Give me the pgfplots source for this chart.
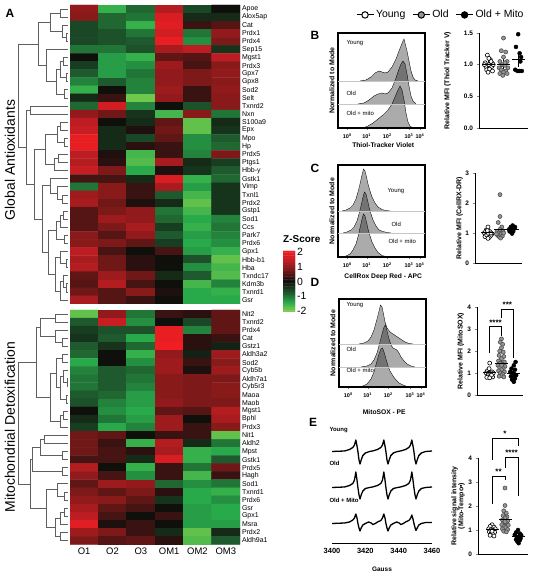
\documentclass[border=0pt]{standalone}
\usepackage{pgfplots}
\pgfplotsset{compat=1.18}
\usepackage{fontspec}
\setmainfont{Liberation Sans}
\setsansfont{Liberation Sans}
\definecolor{oldgray}{RGB}{150,150,150}
\definecolor{dendro}{RGB}{95,95,95}
\newcommand{\fs}[1]{\fontsize{#1}{#1}\selectfont}
\tikzset{
  tl/.style={anchor=west, font=\fs{6}},
  st/.style={font=\bfseries\fs{8}, above, inner sep=1bp},
}
\pgfplotsset{
  /pgf/number format/assume math mode=true,
  colormap={zs}{rgb255(0cm)=(125,205,75) rgb255(0.6cm)=(40,170,75) rgb255(1.2cm)=(30,90,45) rgb255(2cm)=(15,15,12) rgb255(2.8cm)=(125,25,25) rgb255(3.5cm)=(200,30,35) rgb255(4cm)=(240,30,35)},
  hm/.style={scale only axis, width=170bp, xmin=-0.5, xmax=5.5, ymin=-0.5, y dir=reverse,
    axis line style={draw=none}, major tick length=0pt, xtick=\empty, yticklabel pos=right,
    yticklabel style={font=\fs{7}, xshift=-1.5bp}, colormap name=zs, point meta min=-2, point meta max=2},
  den/.style={scale only axis, width=70bp, xmin=0, xmax=70, ymin=-0.5, y dir=reverse, hide axis, clip=false},
  dl/.style={dendro, line width=0.7bp, unbounded coords=jump},
  hist/.style={scale only axis, width=87bp, xmin=0, xmax=87, ymin=0, axis line style={line width=1.1bp},
    xtick={9.3,28.7,49.3,71,82},
    xticklabels={10\textsuperscript{0},10\textsuperscript{1},10\textsuperscript{2},10\textsuperscript{3},10\textsuperscript{4}},
    minor xtick={15.1,18.6,21.0,22.9,24.4,25.7,26.8,27.8,34.9,38.5,41.1,43.1,44.7,46.1,47.3,48.4,55.8,59.7,62.4,64.5,66.2,67.6,68.9,70.0,74.3,76.2,77.6,78.7,79.6,80.3,80.9,81.5},
    ytick=\empty, tick align=outside, major tick length=2.5bp, minor tick length=1.5bp, xtick pos=bottom,
    xticklabel style={font=\bfseries\fs{5.5}}, xlabel style={font=\bfseries\fs{6.7}, anchor=center},
    ylabel={Normalized to Mode}, ylabel style={font=\bfseries\fs{7}, at={(axis description cs:-0.07,0.5)}, anchor=center}},
  hc/.style={fill=black, fill opacity=0.33, draw=black, line width=0.35bp},
  sep/.style={gray!45, line width=0.5bp},
  scat/.style={scale only axis, axis lines*=left, axis line style={line width=0.9bp}, xtick=\empty,
    tick align=outside, major tick length=2.5bp, ytick style={line width=0.8bp},
    yticklabel style={font=\bfseries\fs{6.5}}, ylabel style={font=\bfseries\fs{7}, anchor=center, align=center}, clip=false},
  young/.style={only marks, mark=*, mark size=2bp, mark options={fill=white, draw=black, line width=0.6bp}},
  old/.style={only marks, mark=*, mark size=2bp, mark options={fill=oldgray, draw=black!70, line width=0.6bp}},
  mito/.style={only marks, mark=*, mark size=2bp, mark options={fill=black, draw=black}},
  meanbar/.style={only marks, mark=-, mark size=6.5bp, mark options={line width=1bp, draw=black},
    error bars/.cd, y dir=both, y explicit, error bar style={line width=0.9bp, black}, error mark options={mark size=3bp, line width=0.9bp, black}},
  br/.style={black, line width=0.7bp},
}
\begin{document}
\begin{tikzpicture}
\useasboundingbox (0,0) rectangle (546bp,573bp);

% ---------------- Heatmap top ----------------
\begin{axis}[hm, at={(70bp,568bp)}, anchor=north west, height=299bp, ymax=36.5,
  ytick={0,...,36},
  yticklabels={Apoe,Alox5ap,Cat,Prdx1,Prdx4,Sep15,Mgst1,Prdx3,Gpx7,Gpx8,Sod2,Selt,Txnrd2,Nxn,S100a9,Epx,Mpo,Hp,Prdx5,Ptgs1,Hbb-y,Gstk1,Vimp,Txnl1,Prdx2,Gstp1,Sod1,Ccs,Park7,Prdx6,Gpx1,Hbb-b1,Hba,Txndc17,Kdm3b,Txnrd1,Gsr}]
\addplot[matrix plot*, mesh/cols=6, point meta=explicit] coordinates {
(0,0)[1.0] (1,0)[-1.5] (2,0)[-0.9] (3,0)[1.3] (4,0)[-0.6] (5,0)[0.0]
(0,1)[0.9] (1,1)[-0.9] (2,1)[-1.0] (3,1)[1.7] (4,1)[-0.3] (5,1)[-0.3]
(0,2)[-0.6] (1,2)[-0.9] (2,2)[-1.5] (3,2)[1.8] (4,2)[0.3] (5,2)[0.5]
(0,3)[-0.6] (1,3)[-0.7] (2,3)[-1.0] (3,3)[1.6] (4,3)[-1.0] (5,3)[1.0]
(0,4)[-0.6] (1,4)[-0.7] (2,4)[-0.8] (3,4)[1.9] (4,4)[-1.2] (5,4)[0.8]
(0,5)[-1.0] (1,5)[-1.0] (2,5)[-0.7] (3,5)[1.2] (4,5)[1.4] (5,5)[-0.4]
(0,6)[0.0] (1,6)[-1.3] (2,6)[-1.5] (3,6)[0.6] (4,6)[0.5] (5,6)[1.4]
(0,7)[-0.5] (1,7)[-1.3] (2,7)[-1.2] (3,7)[1.1] (4,7)[0.4] (5,7)[0.9]
(0,8)[-0.8] (1,8)[-1.3] (2,8)[-1.0] (3,8)[1.0] (4,8)[0.8] (5,8)[1.0]
(0,9)[-1.1] (1,9)[-0.8] (2,9)[-1.1] (3,9)[1.0] (4,9)[0.8] (5,9)[0.9]
(0,10)[-1.5] (1,10)[0.0] (2,10)[-1.1] (3,10)[1.1] (4,10)[0.3] (5,10)[1.0]
(0,11)[-0.3] (1,11)[0.3] (2,11)[-1.9] (3,11)[1.0] (4,11)[0.3] (5,11)[0.9]
(0,12)[-0.9] (1,12)[1.6] (2,12)[-1.1] (3,12)[0.0] (4,12)[-0.7] (5,12)[0.9]
(0,13)[1.0] (1,13)[0.7] (2,13)[-0.4] (3,13)[-1.6] (4,13)[0.9] (5,13)[-1.0]
(0,14)[1.4] (1,14)[0.0] (2,14)[-0.3] (3,14)[0.6] (4,14)[-1.8] (5,14)[-0.3]
(0,15)[1.5] (1,15)[-0.3] (2,15)[0.1] (3,15)[0.7] (4,15)[-1.8] (5,15)[-0.4]
(0,16)[1.9] (1,16)[-0.3] (2,16)[-0.6] (3,16)[0.6] (4,16)[-1.2] (5,16)[-0.8]
(0,17)[1.9] (1,17)[-0.3] (2,17)[0.2] (3,17)[0.3] (4,17)[-1.2] (5,17)[-0.9]
(0,18)[1.4] (1,18)[0.1] (2,18)[-1.6] (3,18)[0.3] (4,18)[-1.1] (5,18)[0.8]
(0,19)[1.3] (1,19)[0.2] (2,19)[-1.7] (3,19)[1.2] (4,19)[-0.3] (5,19)[-0.5]
(0,20)[1.5] (1,20)[0.8] (2,20)[-1.4] (3,20)[0.1] (4,20)[-0.4] (5,20)[-0.8]
(0,21)[0.4] (1,21)[0.4] (2,21)[-0.3] (3,21)[1.7] (4,21)[-1.5] (5,21)[-0.9]
(0,22)[-1.0] (1,22)[0.9] (2,22)[0.3] (3,22)[1.2] (4,22)[-1.3] (5,22)[-0.4]
(0,23)[1.1] (1,23)[0.9] (2,23)[0.3] (3,23)[-0.8] (4,23)[-1.6] (5,23)[-0.4]
(0,24)[1.2] (1,24)[0.7] (2,24)[0.1] (3,24)[-0.3] (4,24)[-1.8] (5,24)[-0.4]
(0,25)[0.5] (1,25)[0.8] (2,25)[1.0] (3,25)[-1.0] (4,25)[-1.6] (5,25)[-0.4]
(0,26)[0.5] (1,26)[1.1] (2,26)[1.0] (3,26)[-0.9] (4,26)[-1.4] (5,26)[-1.1]
(0,27)[0.5] (1,27)[0.8] (2,27)[1.2] (3,27)[-0.5] (4,27)[-1.5] (5,27)[-1.0]
(0,28)[0.9] (1,28)[0.5] (2,28)[1.0] (3,28)[-0.8] (4,28)[-1.3] (5,28)[-1.1]
(0,29)[0.9] (1,29)[0.8] (2,29)[0.6] (3,29)[-0.5] (4,29)[-1.4] (5,29)[-1.2]
(0,30)[1.4] (1,30)[0.4] (2,30)[0.0] (3,30)[0.4] (4,30)[-1.3] (5,30)[-1.5]
(0,31)[1.2] (1,31)[0.7] (2,31)[0.2] (3,31)[0.0] (4,31)[-0.7] (5,31)[-1.8]
(0,32)[1.3] (1,32)[0.7] (2,32)[0.2] (3,32)[0.0] (4,32)[-1.2] (5,32)[-1.6]
(0,33)[0.6] (1,33)[1.1] (2,33)[0.7] (3,33)[-0.3] (4,33)[-0.8] (5,33)[-1.7]
(0,34)[0.5] (1,34)[1.3] (2,34)[0.4] (3,34)[0.0] (4,34)[-1.6] (5,34)[-1.1]
(0,35)[0.7] (1,35)[0.5] (2,35)[0.9] (3,35)[0.1] (4,35)[-1.4] (5,35)[-1.5]
(0,36)[1.2] (1,36)[0.5] (2,36)[0.3] (3,36)[0.0] (4,36)[-1.4] (5,36)[-1.4]
};
\end{axis}

% ---------------- Heatmap bottom ----------------
\begin{axis}[hm, at={(70bp,263bp)}, anchor=north west, height=234.4bp, ymax=28.5,
  ytick={0,...,28},
  yticklabels={Nit2,Txnrd2,Prdx4,Cat,Gstz1,Aldh3a2,Sod2,Cyb5b,Aldh7a1,Cyb5r3,Maoa,Maob,Mgst1,Bphl,Prdx3,Nit1,Aldh2,Mpst,Gstk1,Prdx5,Hagh,Sod1,Txnrd1,Prdx6,Gsr,Gpx1,Msra,Prdx2,Aldh9a1},
  xtick={0,...,5}, xticklabels={O1,O2,O3,OM1,OM2,OM3}, xticklabel style={font=\fs{9.5}}]
\addplot[matrix plot*, mesh/cols=6, point meta=explicit] coordinates {
(0,0)[-1.8] (1,0)[1.0] (2,0)[-1.0] (3,0)[0.3] (4,0)[0.2] (5,0)[0.6]
(0,1)[-0.8] (1,1)[1.5] (2,1)[-1.2] (3,1)[0.0] (4,1)[-0.6] (5,1)[0.6]
(0,2)[-0.5] (1,2)[-0.7] (2,2)[-0.7] (3,2)[1.9] (4,2)[-1.1] (5,2)[0.6]
(0,3)[-0.4] (1,3)[-0.8] (2,3)[-1.4] (3,3)[1.9] (4,3)[0.2] (5,3)[0.3]
(0,4)[-0.8] (1,4)[-0.4] (2,4)[-0.9] (3,4)[2.0] (4,4)[0.2] (5,4)[-0.2]
(0,5)[-0.9] (1,5)[0.0] (2,5)[-1.5] (3,5)[1.0] (4,5)[-0.2] (5,5)[1.1]
(0,6)[-1.4] (1,6)[0.0] (2,6)[-1.2] (3,6)[1.1] (4,6)[0.3] (5,6)[0.9]
(0,7)[-1.1] (1,7)[-0.8] (2,7)[-0.9] (3,7)[1.1] (4,7)[0.1] (5,7)[1.1]
(0,8)[-1.0] (1,8)[-0.8] (2,8)[-1.0] (3,8)[0.9] (4,8)[0.8] (5,8)[0.8]
(0,9)[-1.0] (1,9)[-0.8] (2,9)[-1.1] (3,9)[0.9] (4,9)[0.8] (5,9)[0.9]
(0,10)[-0.8] (1,10)[-0.9] (2,10)[-1.3] (3,10)[0.9] (4,10)[0.8] (5,10)[0.9]
(0,11)[-0.7] (1,11)[-1.1] (2,11)[-1.3] (3,11)[1.0] (4,11)[0.8] (5,11)[0.8]
(0,12)[0.0] (1,12)[-1.2] (2,12)[-1.4] (3,12)[0.6] (4,12)[0.5] (5,12)[1.3]
(0,13)[-0.3] (1,13)[-1.0] (2,13)[-1.3] (3,13)[1.1] (4,13)[0.0] (5,13)[1.2]
(0,14)[-0.5] (1,14)[-1.4] (2,14)[-1.1] (3,14)[1.1] (4,14)[0.3] (5,14)[0.9]
(0,15)[0.7] (1,15)[0.6] (2,15)[0.0] (3,15)[0.3] (4,15)[0.3] (5,15)[-1.8]
(0,16)[0.7] (1,16)[0.3] (2,16)[-1.5] (3,16)[1.3] (4,16)[-0.3] (5,16)[-1.0]
(0,17)[0.7] (1,17)[0.4] (2,17)[0.2] (3,17)[1.2] (4,17)[-1.5] (5,17)[-1.4]
(0,18)[0.4] (1,18)[0.4] (2,18)[-0.3] (3,18)[1.7] (4,18)[-1.5] (5,18)[-0.8]
(0,19)[1.3] (1,19)[0.0] (2,19)[-1.5] (3,19)[0.3] (4,19)[-1.0] (5,19)[0.7]
(0,20)[1.0] (1,20)[0.4] (2,20)[-1.2] (3,20)[0.3] (4,20)[-1.6] (5,20)[0.3]
(0,21)[0.6] (1,21)[1.1] (2,21)[1.0] (3,21)[-0.9] (4,21)[-1.2] (5,21)[-1.0]
(0,22)[0.8] (1,22)[0.6] (2,22)[0.8] (3,22)[0.2] (4,22)[-1.4] (5,22)[-1.5]
(0,23)[1.0] (1,23)[0.9] (2,23)[0.6] (3,23)[-0.4] (4,23)[-1.4] (5,23)[-1.2]
(0,24)[1.2] (1,24)[0.6] (2,24)[0.4] (3,24)[0.0] (4,24)[-1.3] (5,24)[-1.4]
(0,25)[1.4] (1,25)[0.4] (2,25)[0.0] (3,25)[0.3] (4,25)[-1.3] (5,25)[-1.4]
(0,26)[1.8] (1,26)[0.1] (2,26)[0.3] (3,26)[0.0] (4,26)[-1.3] (5,26)[-1.3]
(0,27)[1.1] (1,27)[0.8] (2,27)[0.3] (3,27)[-0.3] (4,27)[-1.8] (5,27)[-0.3]
(0,28)[0.8] (1,28)[0.5] (2,28)[0.6] (3,28)[0.2] (4,28)[-1.7] (5,28)[-0.8]
};
\end{axis}

% ---------------- Dendrograms ----------------
\begin{axis}[den, at={(0bp,568bp)}, anchor=north west, height=299bp, ymax=36.5]
\addplot[dl] coordinates {
(68,0)(60,0)(60,1)(68,1)(nan,nan)
(68,3)(66,3)(66,4)(68,4)(nan,nan)
(68,2)(62,2)(62,3.5)(66,3.5)(nan,nan)
(60,0.5)(50,0.5)(50,2.75)(62,2.75)(nan,nan)
(68,6)(63,6)(63,7)(68,7)(nan,nan)
(68,8)(66,8)(66,9)(68,9)(nan,nan)
(63,6.5)(60,6.5)(60,8.5)(66,8.5)(nan,nan)
(68,10)(64,10)(64,11)(68,11)(nan,nan)
(60,7.5)(56,7.5)(56,10.5)(64,10.5)(nan,nan)
(68,5)(46,5)(46,9)(56,9)(nan,nan)
(50,1.625)(38,1.625)(38,7)(46,7)(nan,nan)
(68,12)(30,12)(30,13)(68,13)(nan,nan)
(68,14)(60,14)(60,15)(68,15)(nan,nan)
(68,16)(64,16)(64,17)(68,17)(nan,nan)
(60,14.5)(57,14.5)(57,16.5)(64,16.5)(nan,nan)
(68,18)(58,18)(58,19)(68,19)(nan,nan)
(58,18.5)(54,18.5)(54,20)(68,20)(nan,nan)
(57,15.5)(45,15.5)(45,19.25)(54,19.25)(nan,nan)
(68,23)(62,23)(62,24)(68,24)(nan,nan)
(68,22)(57,22)(57,23.5)(62,23.5)(nan,nan)
(68,21)(50,21)(50,22.75)(57,22.75)(nan,nan)
(68,25)(63,25)(63,26)(68,26)(nan,nan)
(63,25.5)(60,25.5)(60,27)(68,27)(nan,nan)
(68,28)(64,28)(64,29)(68,29)(nan,nan)
(60,26.25)(56,26.25)(56,28.5)(64,28.5)(nan,nan)
(68,31)(66,31)(66,32)(68,32)(nan,nan)
(68,30)(60,30)(60,31.5)(66,31.5)(nan,nan)
(68,34)(66,34)(66,35)(68,35)(nan,nan)
(68,33)(63,33)(63,34.5)(66,34.5)(nan,nan)
(63,33.75)(60,33.75)(60,36)(68,36)(nan,nan)
(60,30.75)(55,30.75)(55,34.875)(60,34.875)(nan,nan)
(56,27.375)(48,27.375)(48,32.8125)(55,32.8125)(nan,nan)
(50,21.875)(42,21.875)(42,30.09)(48,30.09)(nan,nan)
(45,17.375)(34,17.375)(34,25.98)(42,25.98)(nan,nan)
(30,12.5)(26,12.5)(26,21.68)(34,21.68)(nan,nan)
(38,4.3125)(18,4.3125)(18,17.09)(26,17.09)
};
\end{axis}
\begin{axis}[den, at={(0bp,263bp)}, anchor=north west, height=234.4bp, ymax=28.5]
\addplot[dl] coordinates {
(68,0)(55,0)(55,1)(68,1)(nan,nan)
(68,3)(62,3)(62,4)(68,4)(nan,nan)
(68,2)(55,2)(55,3.5)(62,3.5)(nan,nan)
(55,0.5)(40,0.5)(40,2.75)(55,2.75)(nan,nan)
(68,5)(62,5)(62,6)(68,6)(nan,nan)
(68,8)(67,8)(67,9)(68,9)(nan,nan)
(68,7)(63,7)(63,8.5)(67,8.5)(nan,nan)
(68,10)(66,10)(66,11)(68,11)(nan,nan)
(63,7.75)(60,7.75)(60,10.5)(66,10.5)(nan,nan)
(62,5.5)(56,5.5)(56,9.125)(60,9.125)(nan,nan)
(68,12)(63,12)(63,13)(68,13)(nan,nan)
(63,12.5)(60,12.5)(60,14)(68,14)(nan,nan)
(56,7.3125)(50,7.3125)(50,13.25)(60,13.25)(nan,nan)
(40,1.625)(36,1.625)(36,10.28)(50,10.28)(nan,nan)
(68,15)(44,15)(44,16)(68,16)(nan,nan)
(68,17)(62,17)(62,18)(68,18)(nan,nan)
(44,15.5)(40,15.5)(40,17.5)(62,17.5)(nan,nan)
(68,19)(62,19)(62,20)(68,20)(nan,nan)
(40,16.5)(32,16.5)(32,19.5)(62,19.5)(nan,nan)
(68,22)(64,22)(64,23)(68,23)(nan,nan)
(68,21)(57,21)(57,22.5)(64,22.5)(nan,nan)
(68,24)(64,24)(64,25)(68,25)(nan,nan)
(64,24.5)(60,24.5)(60,26)(68,26)(nan,nan)
(68,27)(60,27)(60,28)(68,28)(nan,nan)
(60,25.25)(55,25.25)(55,27.5)(60,27.5)(nan,nan)
(57,21.75)(46,21.75)(46,26.375)(55,26.375)(nan,nan)
(32,18)(30,18)(30,24.06)(46,24.06)(nan,nan)
(36,5.953)(18,5.953)(18,21.03)(30,21.03)
};
\end{axis}

\node[rotate=90, font=\fs{14}] at (10bp,413bp) {Global Antioxidants};
\node[rotate=90, font=\fs{14}] at (10bp,146bp) {Mitochondrial Detoxification};
\node[font=\bfseries\fs{12}] at (10bp,560bp) {A};
\node[font=\bfseries\fs{12}] at (315bp,538bp) {B};
\node[font=\bfseries\fs{12}] at (315bp,405bp) {C};
\node[font=\bfseries\fs{12}] at (315bp,291bp) {D};
\node[font=\bfseries\fs{12}] at (313bp,151bp) {E};

% ---------------- Z-score colorbar ----------------
\node[anchor=west, inner sep=0pt, font=\bfseries\fs{10}] at (283bp,333.5bp) {Z-Score};
\begin{axis}[scale only axis, at={(283bp,322bp)}, anchor=north west, width=12bp, height=61bp,
  xmin=-0.5, xmax=1.5, ymin=-2.05, ymax=2.05, colormap name=zs, point meta min=-2, point meta max=2,
  axis line style={draw=none}, xtick=\empty, ytick={-2,-1,0,1,2}, yticklabel pos=right,
  yticklabel style={font=\fs{10.5}, xshift=1bp, inner sep=1bp}, ytick style={draw=white, line width=0.8bp},
  tick align=inside, major tick length=3bp, ytick pos=left]
\addplot[matrix plot*, mesh/cols=2, point meta=explicit] coordinates {
(0,-2.0)[-2.0] (1,-2.0)[-2.0] (0,-1.9)[-1.9] (1,-1.9)[-1.9] (0,-1.8)[-1.8] (1,-1.8)[-1.8]
(0,-1.7)[-1.7] (1,-1.7)[-1.7] (0,-1.6)[-1.6] (1,-1.6)[-1.6] (0,-1.5)[-1.5] (1,-1.5)[-1.5]
(0,-1.4)[-1.4] (1,-1.4)[-1.4] (0,-1.3)[-1.3] (1,-1.3)[-1.3] (0,-1.2)[-1.2] (1,-1.2)[-1.2]
(0,-1.1)[-1.1] (1,-1.1)[-1.1] (0,-1.0)[-1.0] (1,-1.0)[-1.0] (0,-0.9)[-0.9] (1,-0.9)[-0.9]
(0,-0.8)[-0.8] (1,-0.8)[-0.8] (0,-0.7)[-0.7] (1,-0.7)[-0.7] (0,-0.6)[-0.6] (1,-0.6)[-0.6]
(0,-0.5)[-0.5] (1,-0.5)[-0.5] (0,-0.4)[-0.4] (1,-0.4)[-0.4] (0,-0.3)[-0.3] (1,-0.3)[-0.3]
(0,-0.2)[-0.2] (1,-0.2)[-0.2] (0,-0.1)[-0.1] (1,-0.1)[-0.1] (0,0.0)[0.0] (1,0.0)[0.0]
(0,0.1)[0.1] (1,0.1)[0.1] (0,0.2)[0.2] (1,0.2)[0.2] (0,0.3)[0.3] (1,0.3)[0.3]
(0,0.4)[0.4] (1,0.4)[0.4] (0,0.5)[0.5] (1,0.5)[0.5] (0,0.6)[0.6] (1,0.6)[0.6]
(0,0.7)[0.7] (1,0.7)[0.7] (0,0.8)[0.8] (1,0.8)[0.8] (0,0.9)[0.9] (1,0.9)[0.9]
(0,1.0)[1.0] (1,1.0)[1.0] (0,1.1)[1.1] (1,1.1)[1.1] (0,1.2)[1.2] (1,1.2)[1.2]
(0,1.3)[1.3] (1,1.3)[1.3] (0,1.4)[1.4] (1,1.4)[1.4] (0,1.5)[1.5] (1,1.5)[1.5]
(0,1.6)[1.6] (1,1.6)[1.6] (0,1.7)[1.7] (1,1.7)[1.7] (0,1.8)[1.8] (1,1.8)[1.8]
(0,1.9)[1.9] (1,1.9)[1.9] (0,2.0)[2.0] (1,2.0)[2.0]
};
\end{axis}

% ---------------- B histogram ----------------
\begin{axis}[hist, at={(338bp,445bp)}, anchor=south west, height=95bp, ymax=95,
  xlabel={Thiol-Tracker Violet}, xlabel style={at={(axis description cs:0.52,-0.18)}}]
\addplot[hc] coordinates {(22,47)(28,48)(33,51)(37,55)(41,57)(44,56)(47,55)(50,56)(54,61)(58,69)(61,77)(63,82)(65,87)(66,89)(67,85)(69,77)(71,67)(73,57)(75,51)(77,48)(80,47)};
\addplot[hc] coordinates {(20,24)(26,25)(31,28)(36,32)(40,34)(44,35)(47,34)(50,35)(54,40)(58,50)(61,59)(63,64)(65,67)(67,64)(69,54)(71,42)(73,32)(75,27)(78,24)};
\addplot[hc] coordinates {(25,0)(30,2)(35,5)(40,9)(45,13)(50,18)(54,24)(57,31)(60,38)(62,42)(64,38)(66,28)(68,15)(70,6)(72,2)(75,0)};
\addplot[sep] coordinates {(0,47)(87,47)};
\addplot[sep] coordinates {(0,24)(87,24)};
\node[tl] at (axis cs:5,85) {Young};
\node[tl] at (axis cs:5,35) {Old};
\node[tl] at (axis cs:5,15) {Old + mito};
\end{axis}

% ---------------- C histogram ----------------
\begin{axis}[hist, at={(338bp,316bp)}, anchor=south west, height=92bp, ymax=92,
  xlabel={CellRox Deep Red - APC}, xlabel style={at={(axis description cs:0.52,-0.21)}}]
\addplot[hc] coordinates {(4,46)(8,47)(12,49)(15,52)(18,58)(20,65)(22,73)(24,82)(25.5,88)(27,86)(28.5,80)(30,73)(32,66)(34,60)(37,54)(40,50)(44,47.5)(48,46.5)(52,46)};
\addplot[hc] coordinates {(5,24)(9,25)(13,27)(16,30)(19,36)(21,43)(23,51)(25,60)(26.5,65)(28,63)(29.5,57)(31,50)(33,43)(35,37)(38,31)(41,27)(45,25.5)(49,24.5)(53,24)};
\addplot[hc] coordinates {(4,0)(8,1)(12,3)(15,7)(18,13)(20,20)(22,29)(24,38)(25.5,43)(27,41)(28.5,35)(30,28)(32,21)(34,15)(37,9)(40,4.5)(44,1.5)(48,0.5)(52,0)};
\addplot[sep] coordinates {(0,46)(87,46)};
\addplot[sep] coordinates {(0,24)(87,24)};
\node[tl] at (axis cs:46,66) {Young};
\node[tl] at (axis cs:50,33) {Old};
\node[tl] at (axis cs:47,16) {Old + mito};
\end{axis}

% ---------------- D histogram ----------------
\begin{axis}[hist, at={(339bp,186bp)}, anchor=south west, height=88bp, ymax=88,
  xlabel={MitoSOX - PE}, xlabel style={at={(axis description cs:0.52,-0.28)}}]
\addplot[hc] coordinates {(20,43)(25,44)(29,46)(32,50)(35,57)(38,68)(40,76)(41.5,82)(43,80)(44.5,73)(46,65)(48,59)(51,55)(54,53)(57,51)(60,49)(63,47)(66,45)(70,43.5)(74,43)};
\addplot[hc] coordinates {(22,20)(28,21)(32,23)(35,27)(38,34)(41,45)(43,53)(45,60)(46.5,62)(48,56)(50,48)(52,42)(54,39)(56,38)(58,37)(60,34)(62,30)(65,26)(68,23)(72,21)(76,20)};
\addplot[hc] coordinates {(18,0)(24,1)(28,3)(32,8)(35,15)(38,26)(40,33)(42,38)(43.5,39)(45,35)(47,28)(49,21)(51,16)(54,11)(57,7)(60,4)(64,2)(68,0.5)(72,0)};
\addplot[sep] coordinates {(0,43)(87,43)};
\addplot[sep] coordinates {(0,20)(87,20)};
\node[tl] at (axis cs:4,82) {Young};
\node[tl] at (axis cs:4,38) {Old};
\node[tl] at (axis cs:4,17) {Old + mito};
\end{axis}

% ---------------- E spectra ----------------
\begin{axis}[scale only axis, at={(332bp,30bp)}, anchor=south west, width=100bp, height=113bp,
  xmin=3400, xmax=3460, ymin=0, ymax=113, axis x line*=bottom, axis y line=none,
  axis line style={line width=0.6bp}, xtick={3400,3420,3440,3460}, xticklabels={3400,3420,3440,3460},
  major tick length=0pt, xticklabel style={font=\bfseries\fs{7.5}, yshift=-2bp},
  xlabel={Gauss}, xlabel style={font=\bfseries\fs{6.5}, at={(axis description cs:0.5,-0.23)}, anchor=center}, clip=false]
\addplot[black, line width=1.3bp, line join=round] coordinates {
(3400,91.5)(3407.5,92)(3410.5,93.5)(3412.5,95.5)(3413.5,98)(3414.3,103)(3415,97)(3415.5,92)(3416.2,83)(3416.8,79)(3417.5,83)(3418.5,87.5)(3420,90)(3422.5,91.5)
(3424.3,92)(3427.3,93.5)(3429.3,95.5)(3430.3,98)(3431.1,103)(3431.8,97)(3432.3,92)(3433,83)(3433.6,79)(3434.3,83)(3435.3,87.5)(3436.8,90)(3439.3,91.5)
(3441.1,92)(3444.1,93.5)(3446.1,95.5)(3447.1,98)(3447.9,103)(3448.6,97)(3449.1,92)(3449.8,83)(3450.4,79)(3451.1,83)(3452.1,87.5)(3453.6,90)(3456.1,91.5)(3460,92)};
\addplot[black, line width=1.3bp, line join=round] coordinates {
(3400,55.5)(3407.5,56)(3410.5,57.5)(3412.5,59.5)(3413.5,63)(3414.3,71)(3415,63)(3415.5,56)(3416.2,48)(3416.8,44)(3417.5,48)(3418.5,52)(3420,54.5)(3422.5,55.5)
(3424.3,56)(3427.3,57.5)(3429.3,59.5)(3430.3,63)(3431.1,71)(3431.8,63)(3432.3,56)(3433,48)(3433.6,44)(3434.3,48)(3435.3,52)(3436.8,54.5)(3439.3,55.5)
(3441.1,56)(3444.1,57.5)(3446.1,59.5)(3447.1,63)(3447.9,71)(3448.6,63)(3449.1,56)(3449.8,48)(3450.4,44)(3451.1,48)(3452.1,52)(3453.6,54.5)(3456.1,55.5)(3460,56)};
\addplot[black, line width=1.3bp, line join=round] coordinates {
(3400,19.5)(3407.5,20)(3410.5,21)(3412.5,23)(3413.5,25)(3414.3,29)(3415,25)(3415.5,20)(3416.2,15)(3416.8,12)(3417.5,15)(3418.5,18)(3420,19.5)(3422,21)(3423.5,20)(3424.5,18.5)(3426,19.5)
(3427.3,21)(3429.3,22.5)(3430.3,25)(3431.1,29)(3431.8,25)(3432.3,20)(3433,15)(3433.6,12)(3434.3,15)(3435.3,18)(3436.8,19.5)(3438.8,21)(3440.3,20)(3441.3,18.5)(3442.8,19.5)
(3444.1,21)(3446.1,22.5)(3447.1,24.5)(3447.9,28)(3448.6,24)(3449.1,20)(3449.8,15.5)(3450.4,12.5)(3451.1,15)(3452.1,18)(3453.6,19.5)(3456.1,20.5)(3460,20.5)};
\node[anchor=west, font=\bfseries\fs{6}] at (axis cs:3396.4,113) {Young};
\node[anchor=west, font=\bfseries\fs{6}] at (axis cs:3396.4,80) {Old};
\node[anchor=west, font=\bfseries\fs{6}] at (axis cs:3396.4,43) {Old + Mito};
\end{axis}

% ---------------- B scatter + legend ----------------
\begin{axis}[scat, at={(479bp,445bp)}, anchor=south west, width=49bp, height=95bp,
  xmin=0.33, xmax=3.67, ymin=0, ymax=1.5, ytick={0,0.5,1,1.5},
  yticklabel style={/pgf/number format/fixed, /pgf/number format/fixed zerofill, /pgf/number format/precision=1},
  ylabel={Relative MFI (Thiol Tracker V)}, ylabel style={at={(axis description cs:-0.64,0.5)}},
  legend style={at={(-0.78,1.19)}, anchor=center, draw=none, fill=none, font=\fs{10.5}, legend columns=3,
    /tikz/every even column/.append style={column sep=5bp}}]
\addlegendimage{black, line width=1bp, mark=*, mark size=3.2bp, mark options={fill=white, line width=1bp}}
\addlegendentry{Young}
\addlegendimage{black, line width=1bp, mark=*, mark size=3.2bp, mark options={fill=oldgray, line width=1bp}}
\addlegendentry{Old}
\addlegendimage{black, line width=1bp, mark=*, mark size=3.2bp, mark options={fill=black, line width=1bp}}
\addlegendentry{Old + Mito}
\addplot[young] coordinates {(0.75,1.03)(0.9,1.15)(1.1,1.08)(1.25,1.02)(0.8,0.97)(1.0,1.0)(1.2,0.97)(0.85,0.92)(1.05,0.93)(1.25,0.9)(0.95,0.88)(1.15,1.05)(0.7,1.0)(1.3,1.0)(1.0,1.1)};
\addplot[old] coordinates {(2.0,1.42)(1.85,1.22)(2.15,1.2)(2.0,1.12)(1.75,1.05)(2.25,1.05)(1.9,1.0)(2.1,0.99)(1.7,0.95)(2.3,0.95)(1.85,0.92)(2.15,0.9)(2.0,0.88)(1.75,0.86)(2.25,0.86)(1.95,0.83)(2.1,1.03)};
\addplot[mito] coordinates {(3.0,1.48)(2.85,1.28)(3.1,1.18)(3.2,1.12)(2.8,0.92)(2.95,0.9)(3.1,0.9)(3.25,0.9)(3.15,1.05)};
\addplot[meanbar] coordinates {(1,1.0) +- (0,0.02) (2,1.01) +- (0,0.035) (3,1.08) +- (0,0.07)};
\end{axis}

% ---------------- C scatter ----------------
\begin{axis}[scat, at={(475bp,310bp)}, anchor=south west, width=47bp, height=90bp,
  xmin=-0.08, xmax=3.83, ymin=0, ymax=3, ytick={0,1,2,3},
  ylabel={Relative MFI (CellRX-DR)}, ylabel style={at={(axis description cs:-0.33,0.5)}}]
\addplot[young] coordinates {(0.7,1.0)(0.85,1.1)(1.0,1.2)(1.15,1.05)(1.3,0.95)(0.75,0.88)(0.9,0.93)(1.05,0.98)(1.2,0.9)(0.8,1.05)(1.1,0.85)(1.25,1.0)(0.95,1.08)(1.0,0.82)};
\addplot[old] coordinates {(2.0,2.28)(2.0,1.55)(1.85,1.35)(2.15,1.2)(1.75,1.05)(2.25,1.05)(1.9,1.0)(2.1,0.97)(1.8,0.92)(2.2,0.9)(1.95,0.87)(2.05,0.83)(2.3,1.0)(1.7,0.97)(2.0,1.12)};
\addplot[mito] coordinates {(2.75,1.12)(2.9,1.2)(3.05,1.25)(3.2,1.15)(2.8,1.05)(2.95,1.1)(3.1,1.05)(3.25,1.2)(3.0,0.98)};
\addplot[meanbar] coordinates {(1,1.0) +- (0,0.03) (2,1.1) +- (0,0.08) (3,1.12) +- (0,0.03)};
\end{axis}

% ---------------- D scatter ----------------
\begin{axis}[scat, at={(477bp,178bp)}, anchor=south west, width=46bp, height=88bp,
  xmin=-0.08, xmax=3.83, ymin=0, ymax=4, ytick={0,1,2,3,4},
  ylabel={Relative MFI (MitoSOX)}, ylabel style={at={(axis description cs:-0.35,0.5)}}]
\addplot[young] coordinates {(1.0,1.45)(0.8,1.1)(1.2,1.05)(0.7,1.0)(0.9,0.98)(1.1,0.95)(1.3,1.0)(0.85,0.88)(1.05,0.85)(1.25,0.82)(0.95,1.2)(1.15,0.9)(0.75,0.8)(1.0,0.78)};
\addplot[old] coordinates {(2.0,2.55)(1.9,2.4)(2.1,2.3)(2.0,2.15)(1.85,2.0)(2.15,1.95)(1.8,1.8)(2.2,1.75)(2.0,1.65)(1.75,1.55)(2.25,1.5)(1.9,1.45)(2.1,1.4)(1.7,1.35)(2.3,1.3)(1.85,1.25)(2.15,1.2)(2.0,1.15)(1.75,1.1)(2.25,1.05)(1.9,1.0)(2.1,0.95)(2.0,0.88)(1.8,0.85)(2.2,0.82)(2.0,1.35)};
\addplot[mito] coordinates {(3.2,1.5)(3.05,1.35)(2.85,1.2)(3.15,1.15)(2.75,1.05)(2.95,1.0)(3.1,0.95)(3.25,0.9)(2.8,0.85)(3.0,0.8)(2.9,0.7)(3.05,0.6)(3.15,0.75)};
\addplot[meanbar] coordinates {(1,1.0) +- (0,0.05) (2,1.45) +- (0,0.09) (3,0.97) +- (0,0.07)};
\addplot[br] coordinates {(1,1.9)(1,3.1)(2,3.1)(2,2.7)};
\addplot[br] coordinates {(2,3.5)(2,3.9)(3,3.9)(3,1.7)};
\node[st] at (axis cs:1.5,3.1) {****};
\node[st] at (axis cs:2.5,3.9) {***};
\end{axis}

% ---------------- E scatter ----------------
\begin{axis}[scat, at={(478bp,19bp)}, anchor=south west, width=50bp, height=96bp,
  xmin=-0.08, xmax=3.77, ymin=0, ymax=4, ytick={0,1,2,3,4},
  ylabel={Relative signal intensity\\(Mito-Tempo\textbullet)}, ylabel style={at={(axis description cs:-0.4,0.5)}}]
\addplot[young] coordinates {(1.0,1.22)(0.85,1.15)(1.15,1.12)(0.75,1.05)(1.25,1.05)(0.9,1.0)(1.1,0.98)(0.8,0.92)(1.2,0.9)(0.95,0.88)(1.05,0.82)(0.85,0.78)(1.15,0.75)(1.0,0.95)};
\addplot[old] coordinates {(2.0,2.75)(2.0,2.02)(1.9,1.8)(2.1,1.7)(1.85,1.6)(2.15,1.55)(2.0,1.5)(1.8,1.42)(2.2,1.38)(1.9,1.3)(2.1,1.28)(1.75,1.22)(2.25,1.2)(1.95,1.15)(2.05,1.1)(1.8,1.05)(2.2,1.02)(1.9,0.95)(2.1,0.92)(2.0,1.35)};
\addplot[mito] coordinates {(3.0,1.0)(2.85,0.9)(3.15,0.85)(2.75,0.8)(3.25,0.78)(2.9,0.72)(3.1,0.7)(3.0,0.65)(2.85,0.6)(3.15,0.58)(2.95,0.52)(3.05,0.45)(3.2,0.66)};
\addplot[meanbar] coordinates {(1,1.0) +- (0,0.04) (2,1.42) +- (0,0.09) (3,0.72) +- (0,0.04)};
\addplot[br] coordinates {(1,3.9)(1,4.83)(3,4.83)(3,4.5)};
\addplot[br] coordinates {(2,3.6)(2,4.04)(3,4.04)(3,2.4)};
\addplot[br] coordinates {(1,2.1)(1,3.25)(2,3.25)(2,3.1)};
\node[st] at (axis cs:2,4.83) {*};
\node[st] at (axis cs:2.5,4.04) {****};
\node[st] at (axis cs:1.5,3.25) {**};
\end{axis}
\end{tikzpicture}
\end{document}
